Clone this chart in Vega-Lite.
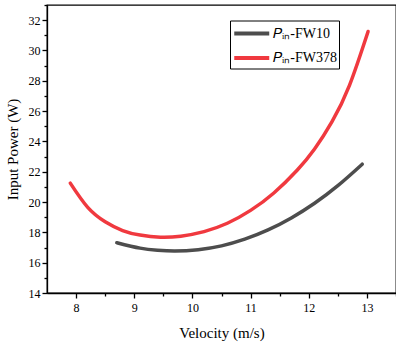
{
  "$schema": "https://vega.github.io/schema/vega-lite/v6.json",
  "width": 349,
  "height": 288,
  "autosize": {"type": "none"},
  "padding": {"left": 47, "top": 5, "right": 0, "bottom": 52},
  "config": {
    "font": "Liberation Serif",
    "view": {"stroke": "black", "strokeWidth": 1.3},
    "axis": {
      "grid": false,
      "domainColor": "black",
      "domainWidth": 1.3,
      "tickColor": "black",
      "tickWidth": 1.3,
      "tickSize": 5,
      "labelColor": "black",
      "labelFontSize": 12,
      "labelFont": "Liberation Serif",
      "titleColor": "black",
      "titleFont": "Liberation Serif",
      "titleFontSize": 15,
      "titleFontWeight": "normal"
    }
  },
  "datasets": {
    "curves": [
      {"series": "𝑃ᵢₙ-FW10", "velocity": 8.7, "power": 17.32},
      {"series": "𝑃ᵢₙ-FW10", "velocity": 9.1, "power": 16.96},
      {"series": "𝑃ᵢₙ-FW10", "velocity": 9.4, "power": 16.82},
      {"series": "𝑃ᵢₙ-FW10", "velocity": 9.7, "power": 16.77},
      {"series": "𝑃ᵢₙ-FW10", "velocity": 10.1, "power": 16.86},
      {"series": "𝑃ᵢₙ-FW10", "velocity": 10.5, "power": 17.11},
      {"series": "𝑃ᵢₙ-FW10", "velocity": 10.9, "power": 17.55},
      {"series": "𝑃ᵢₙ-FW10", "velocity": 11.3, "power": 18.16},
      {"series": "𝑃ᵢₙ-FW10", "velocity": 11.7, "power": 18.95},
      {"series": "𝑃ᵢₙ-FW10", "velocity": 12.1, "power": 19.92},
      {"series": "𝑃ᵢₙ-FW10", "velocity": 12.5, "power": 21.08},
      {"series": "𝑃ᵢₙ-FW10", "velocity": 12.92, "power": 22.5},
      {"series": "𝑃ᵢₙ-FW378", "velocity": 7.9, "power": 21.25},
      {"series": "𝑃ᵢₙ-FW378", "velocity": 8.2, "power": 19.65},
      {"series": "𝑃ᵢₙ-FW378", "velocity": 8.5, "power": 18.7},
      {"series": "𝑃ᵢₙ-FW378", "velocity": 8.8, "power": 18.12},
      {"series": "𝑃ᵢₙ-FW378", "velocity": 9.1, "power": 17.82},
      {"series": "𝑃ᵢₙ-FW378", "velocity": 9.45, "power": 17.68},
      {"series": "𝑃ᵢₙ-FW378", "velocity": 9.8, "power": 17.75},
      {"series": "𝑃ᵢₙ-FW378", "velocity": 10.2, "power": 18.05},
      {"series": "𝑃ᵢₙ-FW378", "velocity": 10.6, "power": 18.6},
      {"series": "𝑃ᵢₙ-FW378", "velocity": 11.0, "power": 19.45},
      {"series": "𝑃ᵢₙ-FW378", "velocity": 11.4, "power": 20.6},
      {"series": "𝑃ᵢₙ-FW378", "velocity": 11.8, "power": 22.1},
      {"series": "𝑃ᵢₙ-FW378", "velocity": 12.1, "power": 23.5},
      {"series": "𝑃ᵢₙ-FW378", "velocity": 12.4, "power": 25.3},
      {"series": "𝑃ᵢₙ-FW378", "velocity": 12.7, "power": 27.7},
      {"series": "𝑃ᵢₙ-FW378", "velocity": 13.02, "power": 31.25}
    ]
  },
  "layer": [
    {
      "data": {"name": "curves"},
      "mark": {"type": "line", "interpolate": "natural", "strokeWidth": 3.5, "strokeCap": "round"},
      "encoding": {
        "x": {
          "field": "velocity", "type": "quantitative",
          "scale": {"domain": [7.5, 13.5], "nice": false, "zero": false},
          "axis": {"title": "Velocity (m/s)", "values": [8, 9, 10, 11, 12, 13], "labelPadding": 4, "titlePadding": 12, "orient": "bottom",
                   "labelFont": "Liberation Serif", "titleFont": "Liberation Serif", "titleFontWeight": "normal"}
        },
        "y": {
          "field": "power", "type": "quantitative",
          "scale": {"domain": [14, 33], "nice": false, "zero": false},
          "axis": {"title": "Input Power (W)", "values": [14, 16, 18, 20, 22, 24, 26, 28, 30, 32], "labelPadding": 2, "titlePadding": 8, "orient": "left",
                   "labelFont": "Liberation Serif", "titleFont": "Liberation Serif", "titleFontWeight": "normal"}
        },
        "color": {
          "field": "series", "type": "nominal",
          "scale": {"domain": ["𝑃ᵢₙ-FW10", "𝑃ᵢₙ-FW378"], "range": ["#4d4d4d", "#f0393f"]},
          "legend": {
            "orient": "none", "legendX": 183, "legendY": 15.5, "title": null,
            "strokeColor": "black", "padding": 2, "symbolType": "M-1,0H3", "symbolSize": 306,
            "symbolStrokeWidth": 4, "symbolFillColor": "transparent", "labelFontSize": 14, "labelColor": "black",
            "labelFont": "Liberation Serif",
            "rowPadding": 5.5, "labelOffset": 19
          }
        }
      }
    },
    {
      "data": {"name": "curves"},
      "mark": {"type": "point", "opacity": 0},
      "encoding": {
        "x": {
          "field": "velocity", "type": "quantitative",
          "axis": {"orient": "bottom", "title": null, "labels": false, "domain": false, "tickSize": 3, "values": [8.5, 9.5, 10.5, 11.5, 12.5, 13.5]}
        },
        "y": {
          "field": "power", "type": "quantitative",
          "axis": {"orient": "left", "title": null, "labels": false, "domain": false, "tickSize": 3, "values": [15, 17, 19, 21, 23, 25, 27, 29, 31, 33]}
        }
      }
    }
  ],
  "resolve": {"axis": {"x": "independent", "y": "independent"}}
}
